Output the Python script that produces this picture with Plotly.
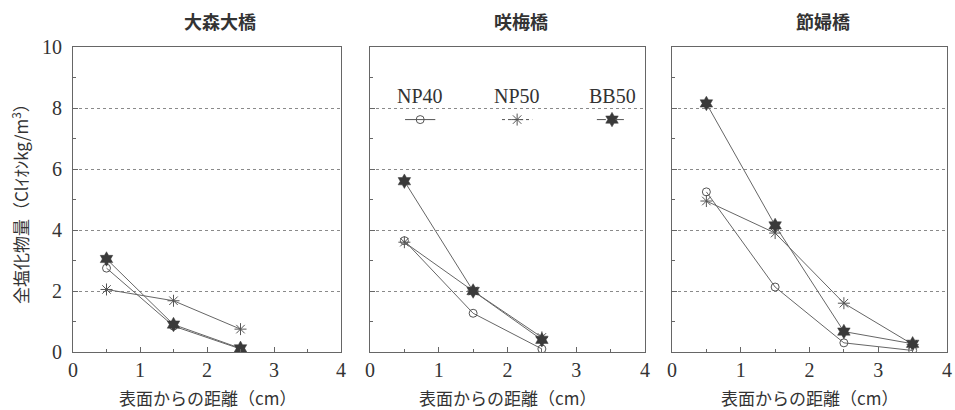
import plotly.graph_objects as go

# Depth from the concrete surface (cm)
depth = [0.5, 1.5, 2.5, 3.5]

bridges = ["大森大橋", "咲梅橋", "節婦橋"]

# Total chloride content (kg/m3) per bridge and mix
np40 = [
    [2.75, 0.85, 0.10],
    [3.65, 1.27, 0.10],
    [5.25, 2.13, 0.30, 0.05],
]
np50 = [
    [2.05, 1.68, 0.75],
    [3.60, 2.00, 0.48],
    [4.95, 3.90, 1.60, 0.25],
]
bb50 = [
    [3.05, 0.90, 0.12],
    [5.60, 2.00, 0.40],
    [8.15, 4.15, 0.67, 0.27],
]

series = [
    ("NP40", np40, dict(symbol="circle-open", size=8, color="#555555", line=dict(width=1, color="#555555")), "solid"),
    ("NP50", np50, dict(symbol="asterisk-open", size=10, color="#555555", line=dict(width=1, color="#555555")), "dot"),
    ("BB50", bb50, dict(symbol="hexagram", size=11, color="#3a3a3a", line=dict(width=0.5, color="#3a3a3a")), "dash"),
]

x_tick_vals = [0, 1, 2, 3, 4]
y_tick_vals = [0, 2, 4, 6, 8, 10]

x_title = "表面からの距離（cm）"
y_title = "全塩化物量（Clｲｵﾝkg/m<sup>3</sup>）"

# Legend key placement inside the middle panel (data units of that panel)
legend_x = [0.73, 2.14, 3.52]
legend_text_y = 8.4
legend_key_y = 7.62
legend_half = 0.22

W, H = 955, 410
x_domains = [[73 / W, 341 / W], [370 / W, 645 / W], [672 / W, 947 / W]]
y_domain = [(H - 352) / H, (H - 47) / H]

FRAME = "#666666"
TEXT = "#333333"
DIGIT_FONT = dict(family="Liberation Serif, serif", size=20, color=TEXT)
JP_FONT = "Noto Sans CJK JP"

fig = go.Figure()

for i in range(3):
    ax = "" if i == 0 else str(i + 1)
    for name, data, marker, _ in series:
        vals = data[i]
        fig.add_trace(go.Scatter(
            x=depth[:len(vals)], y=vals, mode="lines+markers", name=name,
            line=dict(color="#666666", width=1), marker=marker,
            xaxis="x" + ax, yaxis="y" + ax, showlegend=False,
        ))

    fig.layout["xaxis" + ax] = dict(
        domain=x_domains[i], range=[0, 4], tickvals=x_tick_vals,
        ticks="inside", ticklen=5, tickcolor=FRAME,
        minor=dict(dtick=0.5, tick0=0, ticks="inside", ticklen=3, tickcolor=FRAME),
        showline=True, linecolor=FRAME, linewidth=1, mirror=True,
        showgrid=False, zeroline=False, tickfont=DIGIT_FONT,
        ticklabelstandoff=0, automargin=False,
        anchor="y" + ax,
    )
    fig.layout["yaxis" + ax] = dict(
        domain=y_domain, range=[0, 10], tickvals=y_tick_vals,
        ticks="inside", ticklen=5, tickcolor=FRAME,
        minor=dict(dtick=1, tick0=0, ticks="inside", ticklen=3, tickcolor=FRAME),
        showline=True, linecolor=FRAME, linewidth=1, mirror=True,
        showgrid=True, gridcolor="#8a8a8a", griddash="dot", gridwidth=1,
        zeroline=False, tickfont=DIGIT_FONT, showticklabels=(i == 0),
        ticklabelstandoff=6, automargin=False,
        anchor="x" + ax,
    )
    # Panel heading
    fig.add_annotation(
        text="<b>%s</b>" % bridges[i], xref="x%s domain" % ax, yref="paper",
        x=0.55, y=(H - 21) / H, yanchor="middle", showarrow=False,
        font=dict(family=JP_FONT, size=18, color=TEXT),
    )
    # Horizontal axis title
    fig.add_annotation(
        text=x_title, xref="x%s domain" % ax, yref="paper",
        x=0.5, y=(H - 397) / H, yanchor="middle", showarrow=False,
        font=dict(family=JP_FONT, size=17, color=TEXT),
    )

# Vertical axis title
fig.add_annotation(
    text=y_title, xref="paper", yref="paper", x=20 / W, y=(H - 200) / H,
    xanchor="center", yanchor="middle",
    textangle=-90, showarrow=False,
    font=dict(family=JP_FONT, size=17, color=TEXT),
)

# Legend keys drawn in the middle panel
for (name, _, marker, dash), lx in zip(series, legend_x):
    fig.add_annotation(
        text=name, xref="x2", yref="y2", x=lx, y=legend_text_y,
        showarrow=False, font=DIGIT_FONT,
    )
    fig.add_shape(
        type="line", xref="x2", yref="y2",
        x0=lx - legend_half, x1=lx + legend_half, y0=legend_key_y, y1=legend_key_y,
        line=dict(color="#555555", width=1, dash=dash),
    )
    fig.add_trace(go.Scatter(
        x=[lx], y=[legend_key_y], mode="markers", marker=marker,
        xaxis="x2", yaxis="y2", showlegend=False, hoverinfo="skip",
    ))

fig.update_layout(
    width=W, height=H, margin=dict(l=0, r=0, t=0, b=0),
    paper_bgcolor="white", plot_bgcolor="white", showlegend=False,
)

fig.write_html("out.html")
